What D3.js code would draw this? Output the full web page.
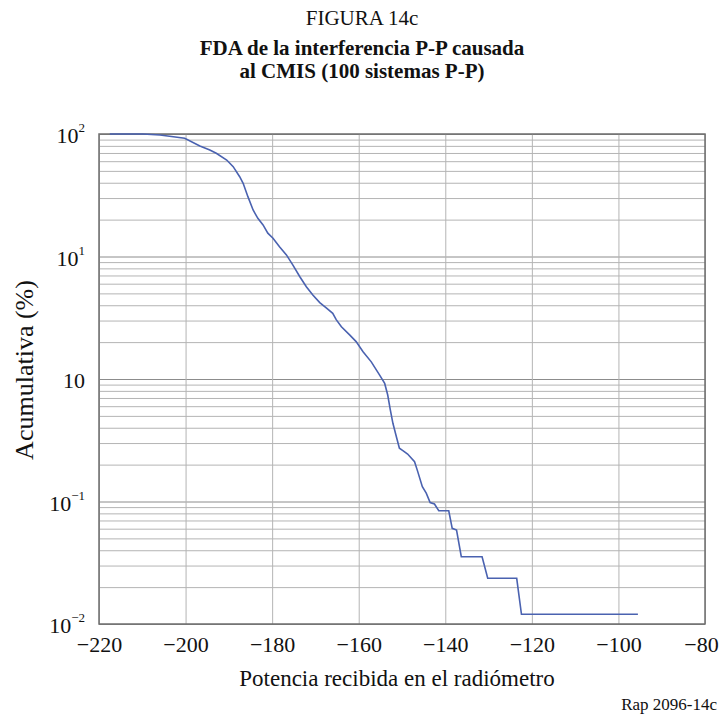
<!DOCTYPE html>
<html>
<head>
<meta charset="utf-8">
<script src="https://cdn.jsdelivr.net/npm/d3@7/dist/d3.min.js"></script>
<style>
  body { margin: 0; background: #fff; }
  svg { font-family: "Liberation Serif", "Times New Roman", serif; }
  .grid line { stroke: #b4b4b4; stroke-width: 1; }
  .grid path { display: none; }
  .major line { stroke: #8c8c8c; }
</style>
</head>
<body>
<div id="chart"></div>
<script>
// potencia recibida (x) y porcentaje acumulativo (y)
var potencia = [-217.5, -209.9, -205.9, -200.2, -196.7, -194.4, -192.9, -190.5, -189.0, -187.5,
  -186.7, -185.6, -184.4, -183.3, -182.1, -181.0, -179.8, -178.3, -176.7, -175.2,
  -173.6, -172.1, -170.6, -169.0, -167.5, -166.0, -165.2, -164.0, -162.1, -160.6,
  -159.0, -157.1, -155.2, -154.0, -153.3, -152.7, -152.1, -151.3, -150.6, -149.8,
  -148.7, -147.1, -146.4, -145.3, -144.4, -143.5, -142.5, -141.5, -139.2, -138.4,
  -137.4, -136.3, -131.5, -130.2, -123.5, -122.4, -95.5];
var acumulativa = [100, 100, 98.1, 92.2, 79.8, 74.0, 69.6, 61.3, 54.1, 44.8,
  39.6, 30.8, 24.0, 20.5, 18.1, 15.5, 14.1, 12.0, 10.3, 8.5,
  6.84, 5.67, 4.85, 4.20, 3.80, 3.44, 3.05, 2.67, 2.29, 2.02,
  1.67, 1.38, 1.08, 0.92, 0.74, 0.56, 0.435, 0.338, 0.272, 0.26,
  0.244, 0.211, 0.177, 0.132, 0.117, 0.098, 0.0955, 0.084, 0.084, 0.0604,
  0.0585, 0.0354, 0.0354, 0.0236, 0.0236, 0.012, 0.012];

var xTicks = [-220, -200, -180, -160, -140, -120, -100, -80];
var yMajor = [100, 10, 1, 0.1, 0.01];
var yLabelExp = ["2", "1", "", "\u22121", "\u22122"];  // la figura pone "10" sin exponente en 10^0

var W = 720, H = 714;
var margin = {left: 99, right: 15, top: 134, bottom: 90};
var w = W - margin.left - margin.right;
var h = H - margin.top - margin.bottom;

var svg = d3.select("#chart").append("svg")
  .attr("width", W)
  .attr("height", H);

// titulos
svg.append("text").attr("x", 362).attr("y", 25).attr("text-anchor", "middle")
  .attr("font-size", "21px").attr("fill", "#111").text("FIGURA 14c");
svg.append("text").attr("x", 362).attr("y", 55).attr("text-anchor", "middle")
  .attr("font-size", "21px").attr("font-weight", "bold").attr("fill", "#111")
  .text("FDA de la interferencia P-P causada");
svg.append("text").attr("x", 362).attr("y", 78).attr("text-anchor", "middle")
  .attr("font-size", "21px").attr("font-weight", "bold").attr("fill", "#111")
  .text("al CMIS (100 sistemas P-P)");

var g = svg.append("g").attr("transform", "translate(" + margin.left + "," + margin.top + ")");

var x = d3.scaleLinear().domain([-220, -80]).range([0, w]);
var y = d3.scaleLog().domain([0.01, 100]).range([h, 0]);

// rejilla menor (todas las divisiones logaritmicas)
var yMinor = [];
for (var e = -2; e < 2; e++) {
  for (var k = 2; k <= 9; k++) yMinor.push(k * Math.pow(10, e));
}

g.append("g").attr("class", "grid")
  .call(d3.axisLeft(y).tickValues(yMinor).tickSize(-w).tickFormat(""));
g.append("g").attr("class", "grid major")
  .call(d3.axisLeft(y).tickValues(yMajor).tickSize(-w).tickFormat(""));
g.append("g").attr("class", "grid")
  .attr("transform", "translate(0," + h + ")")
  .call(d3.axisBottom(x).tickValues(xTicks).tickSize(-h).tickFormat(""));

// marco
g.append("rect").attr("width", w).attr("height", h)
  .attr("fill", "none").attr("stroke", "#6e6e6e").attr("stroke-width", 1.5);

// curva
var line = d3.line()
  .x(function(d, i) { return x(potencia[i]); })
  .y(function(d, i) { return y(acumulativa[i]); });

g.append("path")
  .datum(potencia)
  .attr("d", line)
  .attr("fill", "none")
  .attr("stroke", "#4a62b0")
  .attr("stroke-width", 1.6);

// etiquetas del eje x
var xAxis = g.append("g")
  .attr("transform", "translate(0," + h + ")")
  .call(d3.axisBottom(x).tickValues(xTicks).tickSize(0).tickPadding(12)
    .tickFormat(function(d) { return d < 0 ? "\u2212" + Math.abs(d) : d; }));
xAxis.select(".domain").remove();
xAxis.selectAll("text")
  .attr("font-size", "22px")
  .attr("font-family", "Liberation Serif")
  .attr("fill", "#111")
  .attr("dx", function(d) { return d === -80 ? -4 : 0; });

// etiquetas del eje y con exponentes
var yl = g.selectAll(".ylab").data(yMajor).enter().append("text")
  .attr("class", "ylab")
  .attr("x", -14)
  .attr("y", function(d) { return y(d) + 9; })
  .attr("text-anchor", "end")
  .attr("font-size", "22px")
  .attr("fill", "#111");
yl.append("tspan").text("10");
yl.append("tspan")
  .attr("dy", -11)
  .attr("font-size", "13px")
  .text(function(d, i) { return yLabelExp[i]; });

// titulos de ejes
svg.append("text")
  .attr("transform", "translate(33,370) rotate(-90)")
  .attr("text-anchor", "middle").attr("font-size", "26px").attr("fill", "#111")
  .text("Acumulativa (%)");
svg.append("text")
  .attr("x", 397).attr("y", 686)
  .attr("text-anchor", "middle").attr("font-size", "23px").attr("fill", "#111")
  .text("Potencia recibida en el radiómetro");
svg.append("text")
  .attr("x", 717).attr("y", 710)
  .attr("text-anchor", "end").attr("font-size", "17px").attr("fill", "#111")
  .text("Rap 2096-14c");
</script>
</body>
</html>
